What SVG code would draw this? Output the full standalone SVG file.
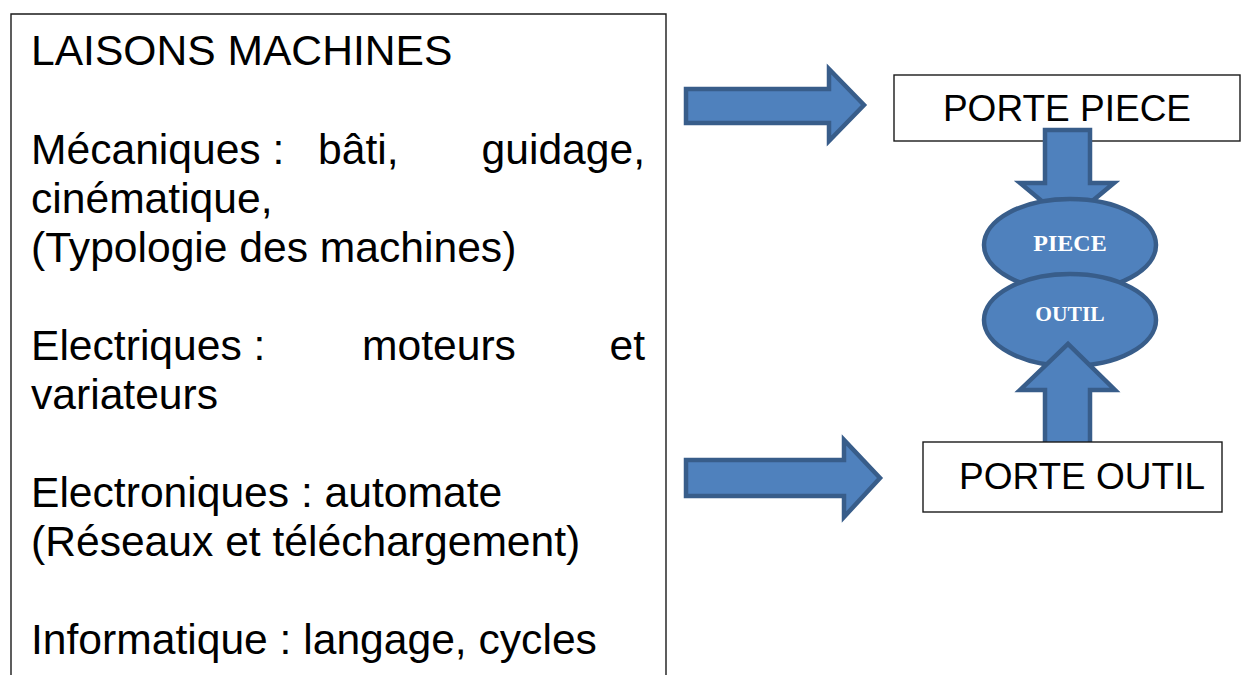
<svg xmlns="http://www.w3.org/2000/svg" width="1242" height="675" viewBox="0 0 1242 675">
  <style>
    .box { fill: #ffffff; stroke: #1a1a1a; stroke-width: 1.4; }
    .body { font-family: "Liberation Sans", Arial, sans-serif; font-size: 42.6px; fill: #000000; }
    .label { font-family: "Liberation Sans", Arial, sans-serif; font-size: 37px; fill: #000000; text-anchor: middle; }
    .blk { fill: #4f81bd; stroke: #385d8a; stroke-width: 4.5; stroke-linejoin: miter; }
    .oval-text { font-family: "Liberation Serif", "Times New Roman", serif; font-weight: bold; fill: #ffffff; text-anchor: middle; }
  </style>

  <!-- Text panel (open at the bottom) -->
  <g id="panel">
    <path class="box" d="M11 676 V14 H666 V676"/>
    <text class="body" x="31" y="65">LAISONS MACHINES</text>
    <text class="body" x="31" y="164">Mécaniques :</text>
    <text class="body" x="318" y="164">bâti,</text>
    <text class="body" x="645" y="164" text-anchor="end">guidage,</text>
    <text class="body" x="31" y="213">cinématique,</text>
    <text class="body" x="31" y="262">(Typologie des machines)</text>
    <text class="body" x="31" y="360">Electriques :</text>
    <text class="body" x="362" y="360">moteurs</text>
    <text class="body" x="645" y="360" text-anchor="end">et</text>
    <text class="body" x="31" y="409">variateurs</text>
    <text class="body" x="31" y="507">Electroniques : automate</text>
    <text class="body" x="31" y="556">(Réseaux et téléchargement)</text>
    <text class="body" x="31" y="654">Informatique : langage, cycles</text>
  </g>

  <!-- Upper holder -->
  <g id="porte-piece">
    <rect class="box" x="894" y="75" width="346" height="66"/>
    <text class="label" x="1067" y="121">PORTE PIECE</text>
  </g>

  <!-- Block arrows -->
  <g id="connectors">
    <path id="arrow-to-porte-piece" class="blk" d="M686 89 H829 V69 L864 105 L829 141 V123 H686 Z"/>
    <path id="arrow-to-porte-outil" class="blk" d="M686 460 H844 V440 L880 478 L844 517 V496 H686 Z"/>
    <path id="arrow-down" class="blk" d="M1045 130 H1090 V183 H1114 L1067 222 L1020 183 H1045 Z"/>
  </g>

  <!-- Workpiece / tool ovals -->
  <g id="piece">
    <ellipse class="blk" cx="1070" cy="245" rx="86" ry="46"/>
    <text class="oval-text" x="1070" y="251" font-size="24">PIECE</text>
  </g>
  <g id="outil">
    <ellipse class="blk" cx="1070" cy="320" rx="86" ry="46"/>
    <text class="oval-text" x="1070" y="321" font-size="21.5">OUTIL</text>
  </g>

  <g id="arrow-up-group">
    <path id="arrow-up" class="blk" d="M1045 450 V390 H1020 L1068 344 L1115 390 H1090 V450 Z"/>
  </g>

  <!-- Lower holder -->
  <g id="porte-outil">
    <rect class="box" x="923" y="442" width="299" height="70"/>
    <text class="label" x="1082" y="489">PORTE OUTIL</text>
  </g>
</svg>
